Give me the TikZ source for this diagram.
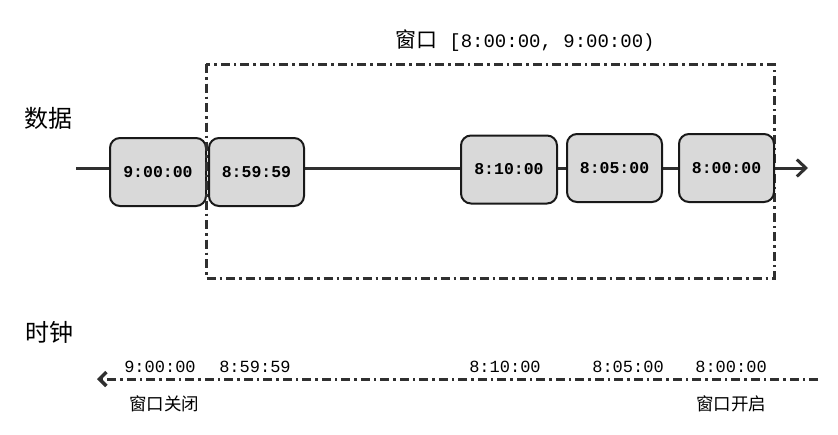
\documentclass[tikz,border=0pt]{standalone}
\usepackage{fontspec}
\setmonofont{Liberation Mono}
\newfontfamily\cjk{Noto Sans CJK SC}
\usetikzlibrary{arrows.meta}
\definecolor{ln}{HTML}{303030}
\definecolor{bx}{HTML}{D9D9D9}
\tikzset{
  evbox/.style={draw=black!90, line width=2pt, fill=bx, rounded corners=10pt, inner sep=0pt, minimum height=68pt, font=\fontsize{16.5}{18}\selectfont\ttfamily\bfseries},
  dashdot/.style={ln, line width=3pt, dash pattern=on 9pt off 4pt on 2.5pt off 4pt},
  tlabel/.style={font=\fontsize{17}{19}\selectfont\ttfamily, inner sep=0pt},
  clabel/.style={font=\fontsize{17.5}{19}\selectfont\cjk, inner sep=0pt},
  head/.style={font=\fontsize{24}{26}\selectfont\cjk, inner sep=0pt}
}
\begin{document}
\begin{tikzpicture}[x=1pt,y=-1pt]
\useasboundingbox (0,0) rectangle (838,434);
% window
\draw[dashdot] (206,64) rectangle (774,278);
\node[inner sep=0pt] (title) at (525,41) {{\fontsize{21}{22}\selectfont\cjk 窗口}\hspace{12pt}{\fontsize{19}{22}\selectfont\ttfamily [8:00:00, 9:00:00)}};
% data line
\coordinate (ds) at (76,168);
\coordinate (de) at (808,168);
\draw[ln, line width=3pt, -{Straight Barb[length=9pt,width=17pt,line width=3pt]}] (ds) -- (de);
\node[head] (data) at (48,118) {数据};
\node[evbox, minimum width=96pt] (b1) at (158,172) {9:00:00};
\node[evbox, minimum width=95pt] (b2) at (256.5,172) {8:59:59};
\node[evbox, minimum width=96pt] (b3) at (509,169.5) {8:10:00};
\node[evbox, minimum width=95pt] (b4) at (614.5,168) {8:05:00};
\node[evbox, minimum width=95pt] (b5) at (726.5,168) {8:00:00};
\draw[dashdot] (206,64) -- (206,278);
% clock
\node[head] (clock) at (49,332) {时钟};
\coordinate (cs) at (818,379);
\coordinate (ce) at (97,379);
\draw[dashdot, -{Straight Barb[length=7pt,width=14pt,line width=3.5pt]}] (cs) -- (ce);
\node[tlabel] (t1) at (160,367) {9:00:00};
\node[tlabel] (t2) at (255,367) {8:59:59};
\node[tlabel] (t3) at (505,367) {8:10:00};
\node[tlabel] (t4) at (628,367) {8:05:00};
\node[tlabel] (t5) at (731,367) {8:00:00};
\node[clabel] (close) at (164,404) {窗口关闭};
\node[clabel] (open) at (731,404) {窗口开启};
\end{tikzpicture}
\end{document}
